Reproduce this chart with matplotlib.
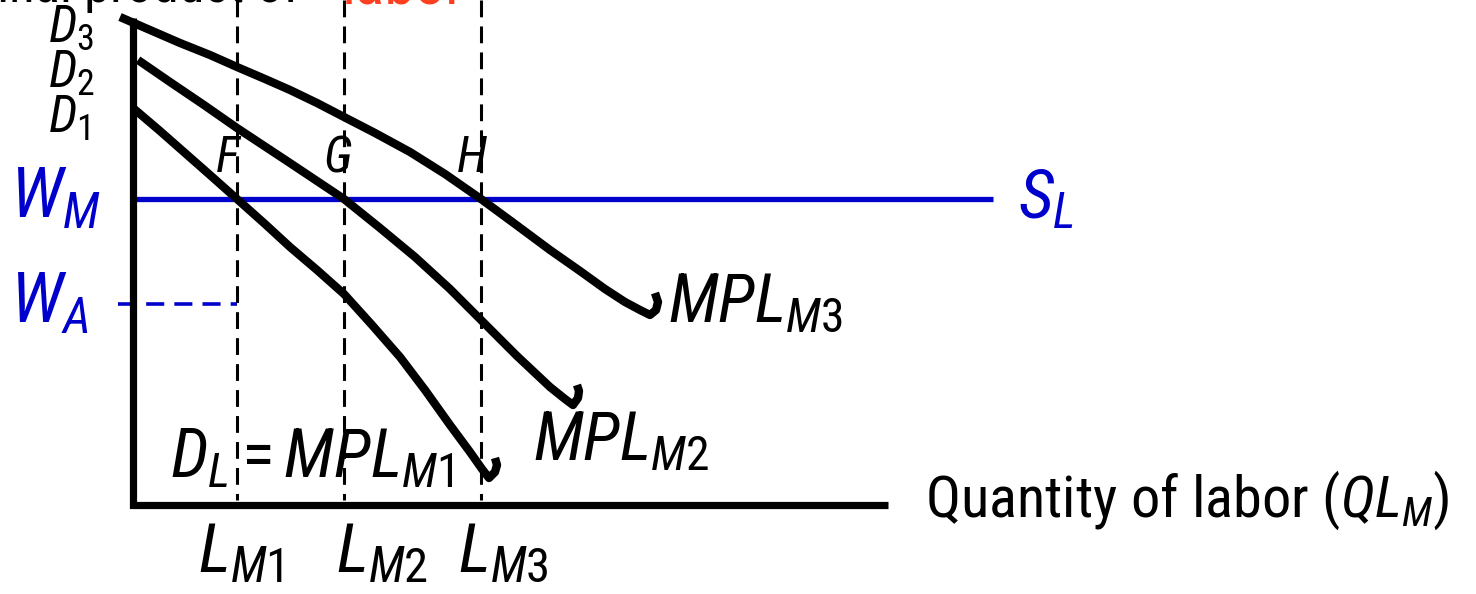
import matplotlib
matplotlib.use("Agg")
import matplotlib.pyplot as plt
from matplotlib import font_manager

# pick a narrow sans that has an italic too
fonts = {}
for f in font_manager.fontManager.ttflist:
    fonts.setdefault(f.name, set()).add(f.style)
narrow = 'DejaVu Sans'
for name in ['Arial Narrow', 'Liberation Sans Narrow', 'Roboto Condensed',
             'Archivo Narrow', 'PT Sans Narrow', 'Fira Sans Condensed']:
    if name in fonts and 'italic' in fonts[name] and 'normal' in fonts[name]:
        narrow = name
        break

plt.rcParams['font.family'] = [narrow, 'DejaVu Sans']
plt.rcParams['mathtext.fontset'] = 'custom'
plt.rcParams['mathtext.it'] = narrow + ':italic'
plt.rcParams['mathtext.rm'] = narrow
plt.rcParams['mathtext.default'] = 'it'

# everything is laid out in pixel units of the 1476x594 picture (y grows down)
W, H = 1476, 594

# axes of the diagram
axis_x = [133, 133, 888]
axis_y = [18, 505, 505]

# labour quantities (dashed guides) and wages
labor_x = [237, 344, 481]
labor_labels = [r'$L_{M1}$', r'$L_{M2}$', r'$L_{M3}$']
wage_m = 199
wage_a = 304

# demand curves MPL_M1..MPL_M3, ending with the little hand-drawn hook
d1_x = [133, 160, 185, 210, 237, 265, 290, 317, 344, 372, 400, 425, 450, 470, 482, 489, 495, 497, 495]
d1_y = [108, 131, 153, 175, 199, 224, 247, 270, 294, 325, 357, 390, 425, 452, 469, 478, 472, 465, 458]
d2_x = [138, 170, 204, 237, 290, 344, 380, 415, 450, 480, 517, 550, 565, 573, 578, 579, 577]
d2_y = [60, 82, 105, 128, 163, 199, 228, 257, 289, 319, 356, 387, 399, 405, 398, 391, 385]
d3_x = [120, 150, 180, 210, 237, 265, 290, 317, 344, 375, 410, 445, 481, 515, 550, 580, 605, 625, 640, 650, 656, 658, 655]
d3_y = [17, 30, 43, 55, 67, 79, 90, 103, 117, 133, 152, 174, 199, 224, 250, 271, 289, 302, 310, 315, 310, 302, 293]

fig = plt.figure(figsize=(W / 100, H / 100), dpi=100)
ax = fig.add_axes([0, 0, 1, 1])
ax.set_xlim(0, W)
ax.set_ylim(H, 0)
ax.axis('off')

blue = '#0000CC'

# dashed guides
for x in labor_x:
    ax.plot([x, x], [0, 500], color='black', lw=2.2, dashes=(5.5, 3))
ax.plot([118, labor_x[0]], [wage_a, wage_a], color=blue, lw=2.6, dashes=(5, 2.8))

# supply of labour
ax.plot([133, 993], [wage_m, wage_m], color=blue, lw=3.8, solid_capstyle='butt')

# axes
ax.plot(axis_x, axis_y, color='black', lw=5.2, solid_capstyle='butt', solid_joinstyle='miter')

# curves
for cx, cy in [(d1_x, d1_y), (d2_x, d2_y), (d3_x, d3_y)]:
    ax.plot(cx, cy, color='black', lw=6, solid_capstyle='butt', solid_joinstyle='round')

# cut off title at the top
ax.text(300, 3, 'Marginal product of', fontsize=38, va='baseline', ha='right')
ax.text(342, 3, 'labor', fontsize=44, va='baseline', color='#FF4020')

# labels
for txt, y in [(r'$D_3$', 42), (r'$D_2$', 88), (r'$D_1$', 133)]:
    ax.text(48, y, txt, fontsize=37, va='baseline')
for txt, x in [('$F$', 215), ('$G$', 323), ('$H$', 456)]:
    ax.text(x, 172, txt, fontsize=36, va='baseline')

ax.text(10, 218, r'$W_M$', fontsize=51, va='baseline', color=blue)
ax.text(10, 323, r'$W_A$', fontsize=51, va='baseline', color=blue)
ax.text(1018, 218, r'$S_L$', fontsize=50, va='baseline', color=blue)

ax.text(668, 322, r'$MPL_{M3}$', fontsize=49, va='baseline')
ax.text(533, 460, r'$MPL_{M2}$', fontsize=49, va='baseline')
ax.text(170, 477, r'$D_L{=}MPL_{M1}$', fontsize=49, va='baseline')

for txt, x in zip(labor_labels, [198, 336, 458]):
    ax.text(x, 572, txt, fontsize=50, va='baseline')

ax.text(925, 517, r'Quantity of labor ($QL_M$)', fontsize=42, va='baseline')

fig.savefig('out.png', dpi=100)
